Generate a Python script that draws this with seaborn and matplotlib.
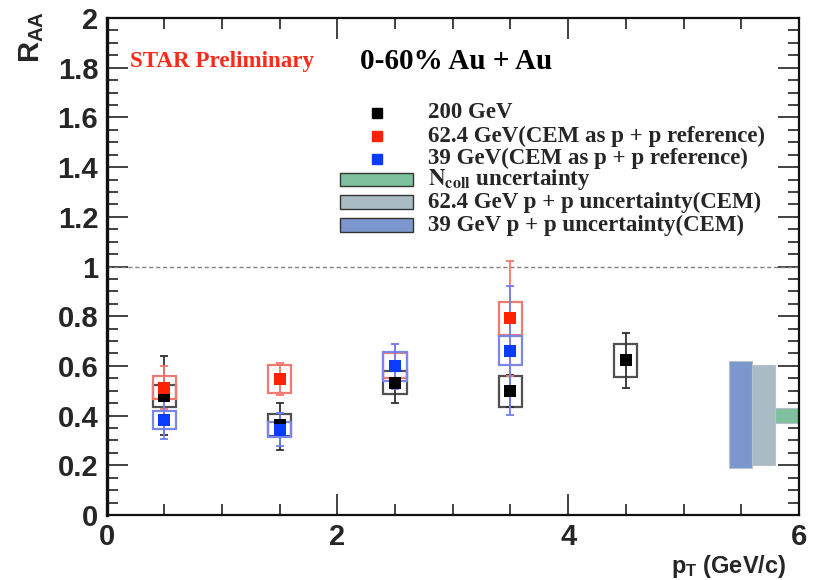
import numpy as np
import pandas as pd
import matplotlib
matplotlib.use("Agg")
import matplotlib.pyplot as plt
from matplotlib.ticker import MultipleLocator
import seaborn as sns

# ---- data ----
series_names = ["200 GeV",
                "62.4 GeV(CEM as p + p reference)",
                "39 GeV(CEM as p + p reference)"]

pt_200 = [0.5, 1.5, 2.5, 3.5, 4.5]
raa_200 = [0.48, 0.363, 0.533, 0.498, 0.622]
stat_lo_200 = [0.16, 0.10, 0.083, 0.065, 0.112]
stat_hi_200 = [0.16, 0.087, 0.083, 0.065, 0.112]
sys_200 = [0.045, 0.045, 0.046, 0.063, 0.068]

pt_62 = [0.5, 1.5, 2.5, 3.5]
raa_62 = [0.513, 0.547, 0.60, 0.791]
stat_lo_62 = [0.087, 0.065, 0.09, 0.23]
stat_hi_62 = [0.087, 0.065, 0.09, 0.23]
sys_62 = [0.048, 0.055, 0.05, 0.068]

pt_39 = [0.5, 1.5, 2.5, 3.5]
raa_39 = [0.383, 0.343, 0.598, 0.661]
stat_lo_39 = [0.078, 0.067, 0.09, 0.26]
stat_hi_39 = [0.078, 0.067, 0.09, 0.26]
sys_39 = [0.035, 0.031, 0.057, 0.059]

# global normalisation uncertainties drawn at the right edge
band_labels = [r"$\mathbf{N_{coll}}$ uncertainty",
               "62.4 GeV p + p uncertainty(CEM)",
               "39 GeV p + p uncertainty(CEM)"]
band_x0 = [5.79, 5.59, 5.39]
band_x1 = [6.0, 5.79, 5.59]
band_center = [0.401, 0.4025, 0.405]
band_half = [0.029, 0.2025, 0.215]

colors = ["#000000", "#ff2200", "#0a3cff"]
box_colors = ["#505050", "#f07a70", "#7a86e8"]
bar_colors = ["#303030", "#f07a70", "#7080f0"]
band_colors = ["#7fc19f", "#a9bcc4", "#7b97cd"]

# ---- figure ----
sns.set_theme(style="ticks")
plt.rcParams["font.family"] = ["Liberation Sans", "DejaVu Sans"]
plt.rcParams["mathtext.fontset"] = "custom"
plt.rcParams["mathtext.rm"] = "Liberation Sans:bold"
plt.rcParams["mathtext.it"] = "Liberation Sans:bold"
plt.rcParams["mathtext.bf"] = "Liberation Sans:bold"

fig = plt.figure(figsize=(8.23, 5.8), dpi=100)
ax = fig.add_axes([106.5 / 823, 1 - 515 / 580, (799 - 106.5) / 823, (515 - 18) / 580])

groups = [
    (pt_200, raa_200, stat_lo_200, stat_hi_200, sys_200),
    (pt_62, raa_62, stat_lo_62, stat_hi_62, sys_62),
    (pt_39, raa_39, stat_lo_39, stat_hi_39, sys_39),
]

frames = []
for name, (x, y, lo, hi, sy) in zip(series_names, groups):
    frames.append(pd.DataFrame({"pt": x, "raa": y, "series": name}))
df = pd.concat(frames, ignore_index=True)

# systematic boxes and statistical error bars
for i, (x, y, lo, hi, sy) in enumerate(groups):
    y = np.asarray(y)
    sy = np.asarray(sy)
    ax.bar(x, 2 * sy, bottom=y - sy, width=0.2, fill=False,
           edgecolor=box_colors[i], linewidth=1.6, zorder=2 + i)
    ax.errorbar(x, y, yerr=[lo, hi], fmt="none", ecolor=bar_colors[i],
                elinewidth=1.3, capsize=3, capthick=1.3, zorder=3 + i)

# data points
sns.scatterplot(data=df, x="pt", y="raa", hue="series", hue_order=series_names,
                palette=colors, marker="s", s=75, edgecolor="none",
                legend=False, ax=ax, zorder=10)

# uncertainty bands
for i in range(3):
    ax.bar(band_x0[i], 2 * band_half[i], bottom=band_center[i] - band_half[i],
           width=band_x1[i] - band_x0[i], align="edge", color=band_colors[i],
           edgecolor="#b8c0cc", linewidth=0.8, zorder=2)

# unity reference
ax.axhline(1.0, color="#808080", linestyle=(0, (3, 2)), linewidth=1.0, zorder=1)

ax.set_xlim(0, 6)
ax.set_ylim(0, 2)
ax.set_xlabel("")
ax.set_ylabel("")
ax.xaxis.set_minor_locator(MultipleLocator(0.5))
ax.yaxis.set_minor_locator(MultipleLocator(0.05))
yt = np.round(np.arange(0, 2.01, 0.2), 1)
ax.set_yticks(yt)
ax.set_yticklabels([f"{v:g}" for v in yt])
ax.set_xticks([0, 2, 4, 6])
ax.set_xticklabels(["0", "2", "4", "6"])

ax.tick_params(axis="both", which="both", direction="in", top=True, right=True,
               color="#222222")
ax.tick_params(axis="x", which="major", length=15, width=1.2, labelsize=21, pad=6)
ax.tick_params(axis="x", which="minor", length=8, width=1.2)
ax.tick_params(axis="y", which="major", length=15, width=1.2, labelsize=21, pad=6)
ax.tick_params(axis="y", which="minor", length=8, width=1.2)
for lab in ax.get_xticklabels() + ax.get_yticklabels():
    lab.set_fontweight("bold")
for s in ax.spines.values():
    s.set_linewidth(1.6)
    s.set_color("#111111")
ax.spines["left"].set_linewidth(2.4)

# axis titles
fig.text(32 / 823, 1 - 11 / 580, "$R_{AA}$", rotation=90, ha="center", va="top",
         fontsize=21)
fig.text(786 / 823, 1 - 566 / 580, "$p_{T}$ (GeV/c)", ha="right", va="center",
         fontsize=17, fontweight="bold")

# header texts
serif = ["Liberation Serif", "DejaVu Serif"]
ax.text(0.034, 0.912, "STAR Preliminary", transform=ax.transAxes, color="#ff2a1a",
        fontsize=16.6, fontweight="bold", family=serif, va="center", ha="left")
ax.text(0.366, 0.912, "0-60% Au + Au", transform=ax.transAxes, color="black",
        fontsize=21, fontweight="bold", family=serif, va="center", ha="left")

# legend block
row_y = [0.809, 0.762, 0.717, 0.675, 0.629, 0.583]
for i, name in enumerate(series_names):
    ax.plot([0.391], [row_y[i]], marker="s", markersize=7.5, color=colors[i],
            linestyle="none", transform=ax.transAxes, clip_on=False)
    ax.text(0.464, row_y[i], name, transform=ax.transAxes, fontsize=16.5,
            fontweight="bold", family=serif, va="center", ha="left")
for j, lab in enumerate(band_labels):
    yy = row_y[3 + j]
    ax.add_patch(plt.Rectangle((0.337, yy - 0.014), 0.106, 0.028,
                               transform=ax.transAxes, facecolor=band_colors[j],
                               edgecolor="#333333", linewidth=1.0, clip_on=False))
    ax.text(0.464, yy, lab, transform=ax.transAxes, fontsize=16.5,
            fontweight="bold", family=serif, va="center", ha="left",
            math_fontfamily="stix")

fig.savefig("out.png", dpi=100)
